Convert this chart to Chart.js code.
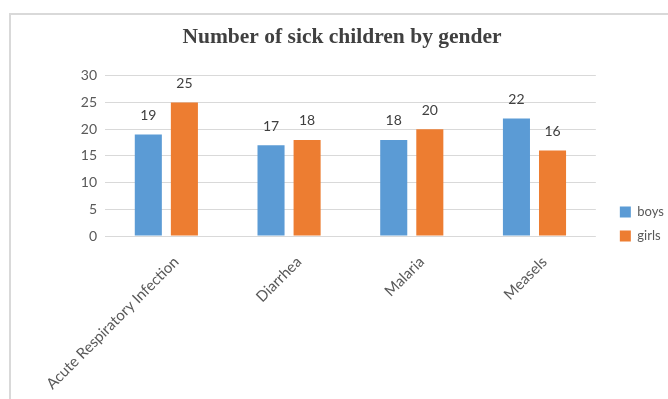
<!DOCTYPE html>
<html>
<head>
<meta charset="utf-8">
<script src="https://cdn.jsdelivr.net/npm/chart.js@4"></script>
<style>
  html, body { margin: 0; padding: 0; background: #ffffff; overflow: hidden; }
  #wrap { position: absolute; left: 0; top: 0; width: 674px; height: 440px; }
  #frame { position: absolute; left: 9px; top: 13px; width: 700px; height: 500px;
           border-left: 2px solid #d9d9d9; border-top: 2px solid #d9d9d9; }
  canvas { position: absolute; left: 0; top: 0; }
</style>
</head>
<body>
<div id="wrap">
  <div id="frame"></div>
  <canvas id="chart" width="674" height="440"></canvas>
</div>
<script>
// Diseases reported and the number of sick children by gender
const categories = ['Acute Respiratory Infection', 'Diarrhea', 'Malaria', 'Measels'];
const boys = [19, 17, 18, 22];
const girls = [25, 18, 20, 16];
const yTicks = [0, 5, 10, 15, 20, 25, 30];

const textColor = '#595959';
const sansFamily = 'Lato, "Liberation Sans", sans-serif';

// Writes each bar's value above it
const valueLabels = {
  id: 'valueLabels',
  afterDatasetsDraw(chart) {
    const ctx = chart.ctx;
    ctx.save();
    ctx.font = '14px ' + sansFamily;
    ctx.fillStyle = '#404040';
    ctx.textAlign = 'center';
    ctx.textBaseline = 'middle';
    chart.data.datasets.forEach((ds, i) => {
      chart.getDatasetMeta(i).data.forEach((bar, j) => {
        ctx.fillText(String(ds.data[j]), bar.x, bar.y - 19);
      });
    });
    ctx.restore();
  }
};

new Chart(document.getElementById('chart'), {
  type: 'bar',
  data: {
    labels: categories,
    datasets: [
      { label: 'boys', data: boys, backgroundColor: '#5B9BD5' },
      { label: 'girls', data: girls, backgroundColor: '#ED7D31' }
    ]
  },
  options: {
    responsive: false,
    animation: false,
    events: [],
    layout: { padding: { left: 10, right: 0, top: 13, bottom: 5 } },
    datasets: { bar: { categoryPercentage: 0.588, barPercentage: 0.75 } },
    scales: {
      x: {
        grid: { display: false },
        border: { display: false },
        ticks: {
          color: textColor,
          font: { family: sansFamily, size: 15 },
          minRotation: 45,
          maxRotation: 45,
          autoSkip: false,
          padding: 9,
          labelOffset: 10
        },
        afterFit(scale) { scale.height = 199; }
      },
      y: {
        min: 0,
        max: 30,
        afterBuildTicks(scale) { scale.ticks = yTicks.map(v => ({ value: v })); },
        grid: { color: '#d9d9d9', lineWidth: 1, drawTicks: false },
        border: { display: false },
        ticks: { color: textColor, font: { family: sansFamily, size: 14 }, padding: 8 },
        afterFit(scale) { scale.width = 95; }
      },
      gap: {
        position: 'right',
        display: true,
        grid: { display: false },
        border: { display: false },
        ticks: { display: false },
        afterFit(scale) { scale.width = 13; }
      }
    },
    plugins: {
      title: {
        display: true,
        text: 'Number of sick children by gender',
        color: '#404040',
        font: { family: '"Liberation Serif", serif', size: 21.5, weight: 'bold' },
        padding: { top: 12, bottom: 25 }
      },
      legend: {
        position: 'right',
        labels: {
          color: textColor,
          font: { family: sansFamily, size: 13 },
          boxWidth: 11,
          boxHeight: 11,
          padding: 11
        }
      },
      tooltip: { enabled: false }
    }
  },
  plugins: [valueLabels]
});
</script>
</body>
</html>
